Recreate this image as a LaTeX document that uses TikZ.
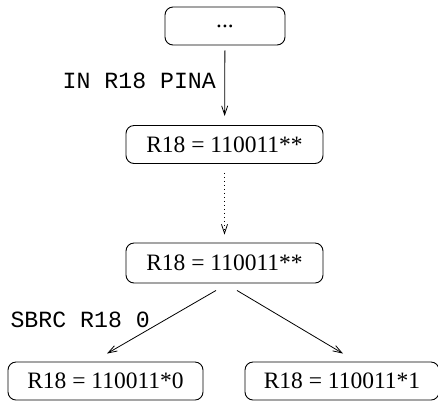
\documentclass[tikz,border=0pt]{standalone}
\usepackage{fontspec}
\setmainfont{Liberation Serif}
\setmonofont{Liberation Mono}
\usetikzlibrary{arrows.meta}
\begin{document}
\begin{tikzpicture}[x=1pt,y=-1pt,
  state/.style={draw, rounded corners=8pt, line width=0.9pt, inner sep=0pt,
    minimum height=38pt, font=\fontsize{23.5}{26}\selectfont},
  flow/.style={line width=0.8pt, -{Straight Barb[length=9pt,width=6pt,line width=0.8pt]}},
  instr/.style={inner sep=0pt, font=\fontsize{23.2}{26}\ttfamily}]
\useasboundingbox (0,0) rectangle (438,400);
\node[state, minimum width=120pt] (top) at (225,26) {...};
\node[state, minimum width=197pt] (r1) at (224.5,144.5) {R18 = 110011**};
\node[state, minimum width=197pt, minimum height=40pt] (r2) at (224.5,263) {R18 = 110011**};
\node[state, minimum width=195pt] (lo) at (105.5,381) {R18 = 110011*0};
\node[state, minimum width=194pt] (hi) at (342,381) {R18 = 110011*1};

\draw[flow, shorten <=5pt, shorten >=9pt] (top) -- (r1);
\draw[flow, dash pattern=on 1pt off 3pt, shorten <=9pt, shorten >=8pt] (r1) -- (r2);
\draw[flow] ([xshift=-8.5pt,yshift=-7pt]r2.south) -- ([xshift=1.5pt,yshift=8pt]lo.north);
\draw[flow] ([xshift=12.5pt,yshift=-7pt]r2.south) -- ([xshift=1pt,yshift=8pt]hi.north);

\node[instr, anchor=east] (lin) at (216,80.5) {IN R18 PINA};
\node[instr, anchor=east] (lsb) at (150,320) {SBRC R18 0};
\end{tikzpicture}
\end{document}
